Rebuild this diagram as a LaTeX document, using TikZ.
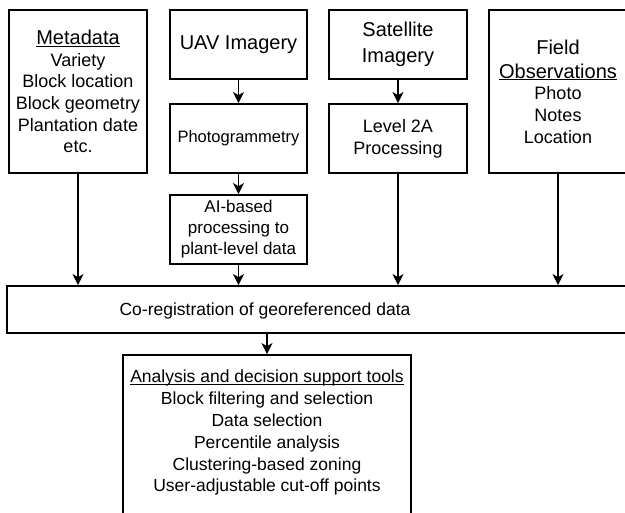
\documentclass[tikz,border=0pt]{standalone}
\usepackage{fontspec}
\setmainfont{Liberation Sans}
\usetikzlibrary{arrows.meta}
\newcommand\myul[1]{\setbox0\hbox{#1}\rlap{\rule[-2.2pt]{\wd0}{1pt}}\box0}
\begin{document}
\begin{tikzpicture}[x=1pt,y=-1pt,
  box/.style={draw=black, line width=1.8pt, rectangle, inner sep=0pt, align=center},
  arr/.style={line width=1.5pt, -{Stealth[length=11pt,width=11pt,inset=3pt]}},
  tf/.style={font=\fontsize{20}{24}\selectfont},
  bf/.style={font=\fontsize{18}{21.7}\selectfont}]
\clip (0,0) rectangle (625,513);
\useasboundingbox (0,0) rectangle (625,513);

\node[box, bf, minimum width=138, minimum height=163] (meta) at (78,91.5)
  {{\fontsize{20}{21.7}\selectfont\myul{Metadata}}\\Variety\\Block location\\Block geometry\\Plantation date\\etc.};
\node[box, tf, minimum width=137, minimum height=69] (uav) at (238.5,44.5) {UAV Imagery};
\node[box, font=\fontsize{16.5}{20}\selectfont, minimum width=137, minimum height=69] (photo) at (238.5,138.5) {Photogrammetry};
\node[box, font=\fontsize{17}{21}\selectfont, minimum width=137, minimum height=69] (ai) at (238.5,229.5) {AI-based\\processing to\\plant-level data};
\node[box, font=\fontsize{20}{26}\selectfont, minimum width=138, minimum height=69] (sat) at (398,44.5) {Satellite\\Imagery};
\node[box, bf, minimum width=138, minimum height=69] (lvl) at (398,138.5) {Level 2A\\Processing};
\node[box, bf, minimum width=138, minimum height=163] (field) at (558,91.5)
  {{\fontsize{20}{24}\selectfont Field}\\[2.5pt]{\fontsize{20}{24}\selectfont\myul{Observations}}\\Photo\\Notes\\Location};

\node[box, minimum width=693, minimum height=47] (coreg) at (353.5,309.5) {};
\node[font=\fontsize{17.5}{21}\selectfont, inner sep=0pt] (coregtext) at (265,311) {Co-registration of georeferenced data};

\node[box, minimum width=288, minimum height=185] (analysis) at (267,447.5) {};
\node[font=\fontsize{17.5}{21.8}\selectfont, align=center, inner sep=0pt, anchor=north] (antext) at (267,370)
  {\myul{Analysis and decision support tools}\\Block filtering and selection\\Data selection\\Percentile analysis\\Clustering-based zoning\\User-adjustable cut-off points};

\draw[arr] (meta.south) -- (meta.south |- coreg.north);
\draw[arr] (uav) -- (photo);
\draw[arr] (photo) -- (ai);
\draw[arr] (ai.south) -- (ai.south |- coreg.north);
\draw[arr] (sat) -- (lvl);
\draw[arr] (lvl.south) -- (lvl.south |- coreg.north);
\draw[arr] (field.south) -- (field.south |- coreg.north);
\draw[arr] (coreg.south -| analysis.north) -- (analysis.north);
\end{tikzpicture}
\end{document}
